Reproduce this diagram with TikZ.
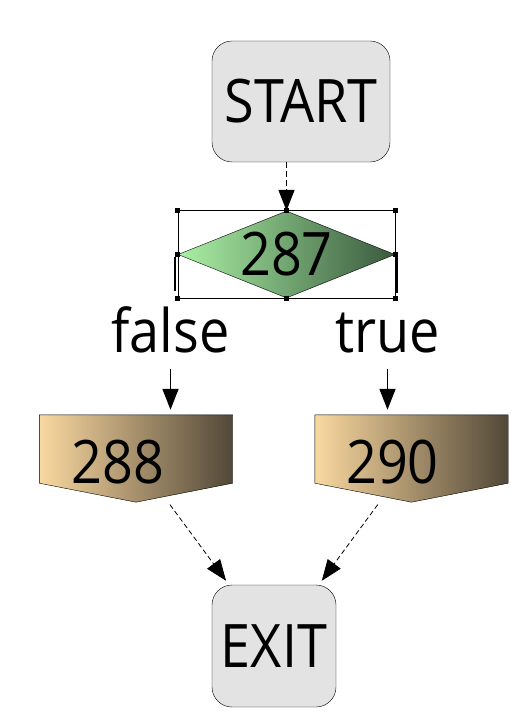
\documentclass[tikz,border=0pt]{standalone}
\usepackage{fontspec}
\newfontfamily\flowfont[FakeStretch=0.9]{Open Sans}
\usetikzlibrary{shapes.geometric, arrows.meta, backgrounds}

\definecolor{termgray}{RGB}{227,227,227}
\definecolor{condlight}{RGB}{170,240,165}
\definecolor{conddark}{RGB}{58,90,62}
\definecolor{blklight}{RGB}{250,216,160}
\definecolor{blkdark}{RGB}{82,72,56}

\tikzset{
	bigtext/.style = {font = \flowfont\fontsize{60}{60}\selectfont},
	term/.style = {bigtext, draw, rounded corners = 20pt, fill = termgray, inner sep = 0pt},
	cond/.style = {bigtext, diamond, aspect = 2.5, draw, left color = condlight, right color = conddark, minimum width = 217pt, minimum height = 87pt, inner sep = 0pt},
	blk/.style = {bigtext, minimum width = 193pt, minimum height = 87pt, inner sep = 0pt, text height = 50pt, text depth = 0pt},
	blkfill/.style = {draw, left color = blklight, right color = blkdark},
	lbl/.style = {bigtext, inner sep = 0pt, anchor = base},
	handle/.style = {fill = black, inner sep = 0pt, minimum size = 5pt},
	flow/.style = {-{Triangle[width = 16pt, length = 21pt]}, line width = 1.6pt},
	dflow/.style = {flow, dash pattern = on 6pt off 3pt},
	tflow/.style = {-{Triangle[width = 16pt, length = 21pt]}, line width = 0.8pt, dash pattern = on 5pt off 3pt}
}

\begin{document}
\begin{tikzpicture}[x = 1pt, y = -1pt]
		\useasboundingbox (0,0) rectangle (519,719);

		\node [term, minimum width = 178pt, minimum height = 121pt] (start) at (301,101.5) {START};

		\node [cond] (d287) at (286.5,254.5) {287};

		% selection frame round the condition
		\draw [line width = 0.6pt] (d287.west |- d287.north) rectangle (d287.east |- d287.south);
		\foreach \p in {d287.west |- d287.north, d287.north, d287.east |- d287.north, d287.west, d287.east, d287.west |- d287.south, d287.south, d287.east |- d287.south}
			\node [handle] at (\p) {};
		\draw [line width = 2pt] ([xshift = -3pt, yshift = -2pt]d287.west) -- ++(0,34);
		\draw [line width = 2pt] ([xshift = 2pt, yshift = -2pt]d287.east) -- ++(0,36);

		\node [lbl] (false) at (170.5,352) {false};
		\node [lbl] (true) at (387.5,352) {true};

		\node [blk] (b288) at (136,458.5) {288\hspace*{36pt}};
		\node [blk] (b290) at (411.5,458.5) {290\hspace*{38pt}};

		% block outlines, behind the numbers
		\begin{scope}[on background layer]
			\foreach \b in {b288, b290}
				\shade [blkfill] (\b.north west) -- (\b.north east) -- ([yshift = 19pt]\b.south east) -- (\b.south) -- ([yshift = 19pt]\b.south west) -- cycle;
		\end{scope}

		\node [term, minimum width = 124pt, minimum height = 122pt] (exit) at (274,646) {EXIT};

		\draw [dflow] (d287.north |- start.south) -- (d287.north);
		\draw [flow, shorten <= 16pt, shorten >= 5pt] (false.south) -- (false.south |- b288.north);
		\draw [flow, shorten <= 16pt, shorten >= 5pt] (true.south) -- (true.south |- b290.north);
		\draw [tflow, shorten <= 3pt, shorten >= 5pt] (b288) -- (exit);
		\draw [tflow, shorten <= 3pt, shorten >= 5pt] (b290) -- (exit);
	\end{tikzpicture}
\end{document}
